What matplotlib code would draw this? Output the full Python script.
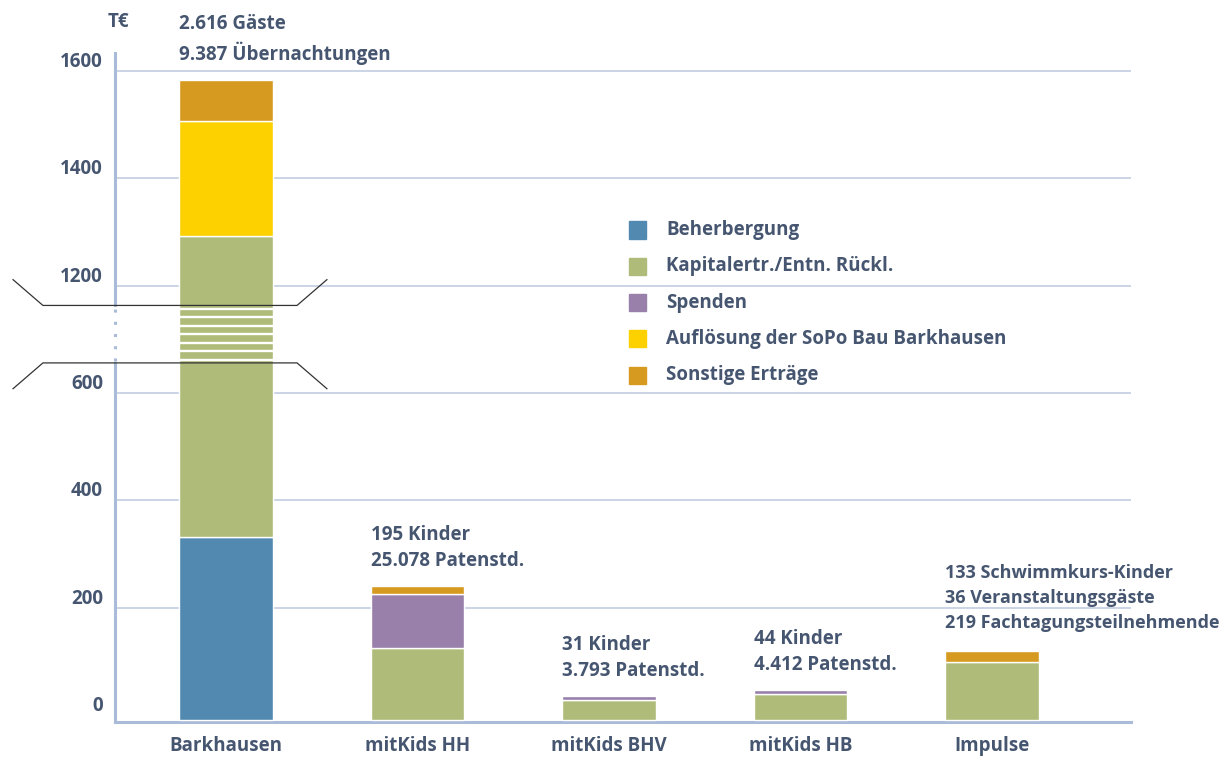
import numpy as np
import matplotlib
matplotlib.use("Agg")
import matplotlib.pyplot as plt
from matplotlib.patches import Rectangle

# data (T€)
categories = ['Barkhausen', 'mitKids HH', 'mitKids BHV', 'mitKids HB', 'Impulse']
series_names = ['Beherbergung', 'Kapitalertr./Entn. Rückl.', 'Spenden',
                'Auflösung der SoPo Bau Barkhausen', 'Sonstige Erträge']
beherbergung = [332, 0, 0, 0, 0]
kapital = [961, 125, 29, 39, 99]
spenden = [0, 101, 7, 8, 0]
aufloesung = [213, 0, 0, 0, 0]
sonstige = [77, 14, 0, 0, 21]
notes = ['2.616 Gäste\n9.387 Übernachtungen',
         '195 Kinder\n25.078 Patenstd.',
         '31 Kinder\n3.793 Patenstd.',
         '44 Kinder\n4.412 Patenstd.',
         '133 Schwimmkurs-Kinder\n36 Veranstaltungsgäste\n219 Fachtagungsteilnehmende']
tick_values = [0, 200, 400, 600, 1200, 1400, 1600]

colors = ['#5289B0', '#AFBB79', '#9880AA', '#FDD100', '#D79A21']
TEXT = '#465670'
GRID = '#CAD4E6'
AXIS = '#A9BBD8'

# broken axis: values above the gap are shifted down
SHIFT = 400
BREAK_LO, BREAK_HI = 656, 763


def disp(v):
    return v - SHIFT if v > 1000 else v


plt.rcParams['font.family'] = ['Open Sans', 'DejaVu Sans']
plt.rcParams['font.weight'] = 'bold'
FS = 13.5

fig = plt.figure(figsize=(12.27, 7.58), dpi=100)
ax = fig.add_axes([115 / 1227, 1 - 721.7 / 758, 1016 / 1227, 668.7 / 758])

x = np.arange(len(categories))
BAR_W = 0.49
base = -9  # bars sit on the axis line
series = [beherbergung, kapital, spenden, aufloesung, sonstige]
cum = np.zeros(len(categories))
for vals, col in zip(series, colors):
    vals = np.array(vals, dtype=float)
    for i in range(len(categories)):
        if vals[i] <= 0:
            continue
        lo = disp(cum[i]) if cum[i] > 0 else base
        hi = disp(cum[i] + vals[i])
        ax.bar(x[i], hi - lo, bottom=lo, width=BAR_W, color=col,
               edgecolor='white', linewidth=1, zorder=3)
    cum += vals

# annotations above each bar (the long Impulse block a touch smaller so it fits)
for i, txt in enumerate(notes):
    fs = FS if i < 4 else 13
    off = 15 if i < 4 else 19
    ax.annotate(txt, xy=(x[i] - BAR_W / 2, disp(cum[i])), xytext=(0, off),
                textcoords='offset pixels', ha='left', va='bottom',
                fontsize=fs, color=TEXT, linespacing=1.42 if i < 4 else 1.48)

# gridlines
for t in tick_values[1:]:
    ax.axhline(disp(t), color=GRID, lw=1.4, zorder=1)

ax.set_xlim(-0.5796, 4.726)
ax.set_ylim(-12, 1233)

# y labels, lifted above their gridlines
for t in tick_values:
    ax.annotate(str(t), xy=(0, disp(t)), xycoords=('axes fraction', 'data'),
                xytext=(-12, 9), textcoords='offset pixels', ha='right',
                va='center', fontsize=FS, color=TEXT)
ax.set_yticks([])
fig.text(118 / 1227, 1 - 22 / 758, 'T€', ha='center', va='center',
         fontsize=FS, color=TEXT)

ax.set_xticks(x)
ax.set_xticklabels(categories, fontsize=FS, color=TEXT, fontweight='bold')
ax.tick_params(axis='x', length=0, pad=10)

for s in ['top', 'right', 'left']:
    ax.spines[s].set_visible(False)
ax.spines['bottom'].set_color(AXIS)
ax.spines['bottom'].set_linewidth(2.2)

# left axis, dotted across the gap
x0 = ax.get_xlim()[0]
ax.plot([x0, x0], [-12, BREAK_LO], color=AXIS, lw=2.2, clip_on=False, zorder=4)
ax.plot([x0, x0], [BREAK_HI, 1233], color=AXIS, lw=2.2, clip_on=False, zorder=4)
ax.plot([x0, x0], [BREAK_LO + 4, BREAK_HI - 4], color=AXIS, lw=2.2,
        ls=(0, (1, 3)), clip_on=False, zorder=4)

# white cuts through the broken bar
ax.hlines(np.linspace(662, 757, 7), -BAR_W / 2, BAR_W / 2, color='white',
          lw=1.7, zorder=4)

# break markers
ax.plot([-1.112, -0.956, 0.371, 0.527], [811, BREAK_HI, BREAK_HI, 811],
        color='#333333', lw=0.9, clip_on=False, zorder=5)
ax.plot([-1.112, -0.956, 0.371, 0.527], [608, BREAK_LO, BREAK_LO, 608],
        color='#333333', lw=0.9, clip_on=False, zorder=5)

# legend
for k, (name, col) in enumerate(zip(series_names, colors)):
    yc = 230 + k * 36.3
    fig.add_artist(Rectangle((629 / 1227, 1 - (yc + 8.5) / 758), 17 / 1227, 17 / 758,
                             transform=fig.transFigure, color=col))
    fig.text(666 / 1227, 1 - yc / 758, name, ha='left', va='center',
             fontsize=FS, color=TEXT)

fig.savefig('out.png', dpi=100)
